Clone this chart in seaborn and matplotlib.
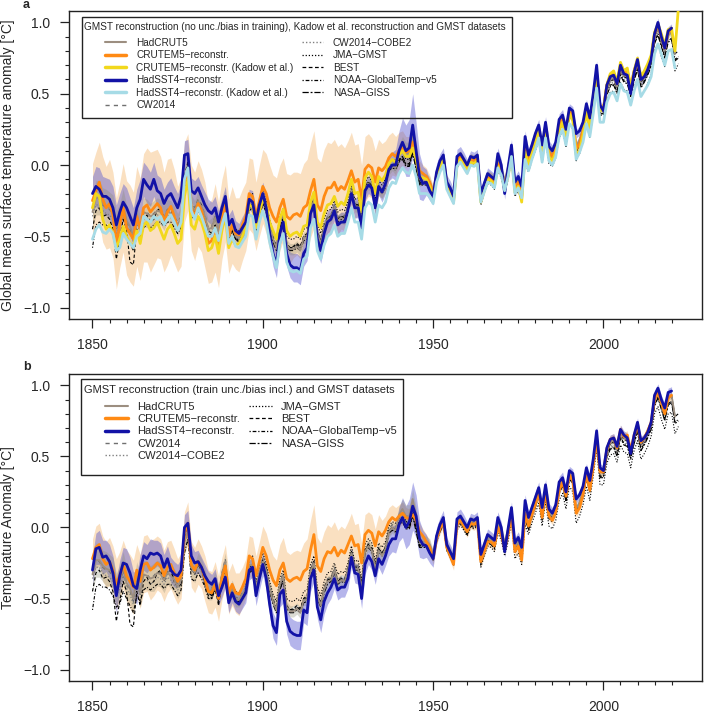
import numpy as np
import seaborn as sns
import matplotlib.pyplot as plt
from matplotlib.lines import Line2D
from matplotlib.patches import Rectangle
from matplotlib.ticker import FixedLocator

# annual GMST anomalies [°C], one row per decade, each list starts at its *_start year

hadcrut5_start = 1850
hadcrut5 = [
    -0.33, -0.23, -0.23, -0.27, -0.29, -0.30, -0.32, -0.44, -0.38, -0.28,
    -0.39, -0.43, -0.50, -0.34, -0.46, -0.33, -0.34, -0.36, -0.35, -0.32,
    -0.33, -0.37, -0.32, -0.34, -0.37, -0.42, -0.37, -0.10, -0.02, -0.28,
    -0.32, -0.25, -0.29, -0.36, -0.45, -0.44, -0.37, -0.47, -0.33, -0.24,
    -0.49, -0.43, -0.50, -0.51, -0.47, -0.43, -0.27, -0.26, -0.43, -0.31,
    -0.24, -0.30, -0.43, -0.52, -0.58, -0.40, -0.34, -0.56, -0.59, -0.59,
    -0.57, -0.60, -0.51, -0.51, -0.31, -0.25, -0.48, -0.55, -0.44, -0.38,
    -0.37, -0.30, -0.39, -0.37, -0.38, -0.30, -0.18, -0.29, -0.29, -0.44,
    -0.17, -0.13, -0.16, -0.30, -0.16, -0.20, -0.15, -0.03, 0.00, -0.02,
    0.09, 0.13, 0.08, 0.08, 0.20, 0.08, -0.10, -0.10, -0.10, -0.12,
    -0.19, -0.06, 0.01, 0.06, -0.12, -0.17, -0.22, 0.04, 0.07, 0.03,
    -0.01, 0.05, 0.04, 0.06, -0.22, -0.14, -0.07, -0.08, -0.11, 0.03,
    -0.02, -0.11, -0.01, 0.12, -0.14, -0.10, -0.17, 0.10, 0.02, 0.11,
    0.18, 0.26, 0.09, 0.27, 0.10, 0.08, 0.14, 0.28, 0.33, 0.22,
    0.38, 0.35, 0.13, 0.18, 0.26, 0.38, 0.29, 0.45, 0.63, 0.39,
    0.39, 0.54, 0.60, 0.61, 0.55, 0.68, 0.63, 0.62, 0.53, 0.64,
    0.72, 0.59, 0.63, 0.68, 0.74, 0.91, 0.96, 0.88, 0.80, 0.91,
    0.93, 0.78,
]
hadcrut5_unc = [
    0.12, 0.12, 0.12, 0.11, 0.12, 0.11, 0.11, 0.12, 0.11, 0.11,
    0.11, 0.10, 0.11, 0.10, 0.10, 0.10, 0.10, 0.09, 0.10, 0.09,
    0.09, 0.09, 0.08, 0.09, 0.08, 0.08, 0.08, 0.08, 0.08, 0.07,
    0.07, 0.07, 0.07, 0.07, 0.06, 0.07, 0.06, 0.06, 0.06, 0.06,
    0.06, 0.06, 0.06, 0.05, 0.05, 0.05, 0.05, 0.05, 0.05, 0.05,
    0.05, 0.05, 0.05, 0.05, 0.05, 0.04, 0.04, 0.04, 0.04, 0.04,
    0.04, 0.04, 0.04, 0.04, 0.04, 0.04, 0.04, 0.05, 0.05, 0.04,
    0.04, 0.04, 0.04, 0.04, 0.04, 0.04, 0.04, 0.04, 0.04, 0.04,
    0.04, 0.04, 0.04, 0.04, 0.04, 0.04, 0.04, 0.04, 0.04, 0.05,
    0.06, 0.07, 0.08, 0.08, 0.07, 0.06, 0.05, 0.04, 0.04, 0.04,
    0.03, 0.03, 0.03, 0.03, 0.03, 0.03, 0.03, 0.03, 0.03, 0.03,
    0.03, 0.03, 0.03, 0.03, 0.03, 0.03, 0.03, 0.03, 0.03, 0.03,
    0.03, 0.03, 0.03, 0.03, 0.03, 0.03, 0.03, 0.03, 0.03, 0.03,
    0.03, 0.03, 0.03, 0.03, 0.03, 0.03, 0.03, 0.03, 0.03, 0.03,
    0.03, 0.03, 0.03, 0.03, 0.03, 0.03, 0.03, 0.03, 0.03, 0.03,
    0.02, 0.02, 0.02, 0.02, 0.02, 0.02, 0.02, 0.02, 0.02, 0.02,
    0.02, 0.02, 0.02, 0.02, 0.02, 0.02, 0.02, 0.02, 0.02, 0.02,
    0.02, 0.02,
]

# panel a reconstructions (no unc./bias in training)
crutem_a_start = 1850
crutem_a = [
    -0.25, -0.18, -0.12, -0.24, -0.30, -0.27, -0.35, -0.55, -0.42, -0.30,
    -0.44, -0.48, -0.52, -0.36, -0.45, -0.30, -0.28, -0.33, -0.30, -0.27,
    -0.30, -0.40, -0.33, -0.29, -0.36, -0.45, -0.40, -0.12, -0.05, -0.30,
    -0.36, -0.27, -0.32, -0.42, -0.55, -0.53, -0.44, -0.56, -0.38, -0.27,
    -0.50, -0.42, -0.48, -0.49, -0.42, -0.36, -0.20, -0.22, -0.36, -0.25,
    -0.15, -0.20, -0.30, -0.36, -0.40, -0.30, -0.24, -0.36, -0.38, -0.35,
    -0.34, -0.36, -0.30, -0.28, -0.18, -0.10, -0.28, -0.32, -0.22, -0.16,
    -0.16, -0.12, -0.18, -0.15, -0.17, -0.11, -0.04, -0.12, -0.10, -0.24,
    -0.03, 0.00, -0.02, -0.12, -0.02, -0.04, -0.01, 0.05, 0.08, 0.06,
    0.10, 0.12, 0.09, 0.10, 0.16, 0.08, -0.04, -0.06, -0.08, -0.12,
    -0.20, -0.07, 0.00, 0.05, -0.13, -0.19, -0.24, 0.02, 0.06, 0.02,
    -0.03, 0.04, 0.03, 0.05, -0.24, -0.16, -0.09, -0.09, -0.12, 0.01,
    -0.04, -0.16, -0.05, 0.10, -0.17, -0.12, -0.22, 0.12, 0.03, 0.10,
    0.17, 0.26, 0.08, 0.27, 0.09, 0.06, 0.12, 0.27, 0.33, 0.23,
    0.38, 0.34, 0.11, 0.15, 0.24, 0.39, 0.27, 0.44, 0.64, 0.40,
    0.40, 0.56, 0.63, 0.64, 0.57, 0.70, 0.65, 0.66, 0.55, 0.66,
    0.73, 0.61, 0.64, 0.69, 0.75, 0.92, 0.98, 0.90, 0.82, 0.93,
    0.95,
]
crutem_a_unc = [
    0.26, 0.27, 0.28, 0.30, 0.29, 0.31, 0.30, 0.32, 0.30, 0.31,
    0.33, 0.34, 0.33, 0.35, 0.36, 0.38, 0.40, 0.42, 0.40, 0.38,
    0.36, 0.35, 0.37, 0.34, 0.33, 0.30, 0.31, 0.28, 0.27, 0.30,
    0.31, 0.30, 0.29, 0.30, 0.28, 0.29, 0.31, 0.30, 0.28, 0.27,
    0.26, 0.27, 0.25, 0.26, 0.25, 0.24, 0.25, 0.26, 0.24, 0.25,
    0.26, 0.28, 0.30, 0.29, 0.31, 0.30, 0.29, 0.30, 0.31, 0.30,
    0.29, 0.30, 0.31, 0.32, 0.33, 0.34, 0.33, 0.34, 0.33, 0.32,
    0.31, 0.30, 0.31, 0.30, 0.29, 0.28, 0.27, 0.26, 0.25, 0.24,
    0.23, 0.22, 0.21, 0.22, 0.20, 0.19, 0.18, 0.16, 0.15, 0.14,
    0.13, 0.12, 0.11, 0.10, 0.09, 0.08, 0.07, 0.06, 0.06, 0.05,
    0.05, 0.05, 0.04, 0.04, 0.04, 0.04, 0.04, 0.04, 0.04, 0.04,
    0.04, 0.04, 0.04, 0.04, 0.04, 0.04, 0.04, 0.04, 0.04, 0.04,
    0.04, 0.04, 0.04, 0.04, 0.04, 0.04, 0.04, 0.04, 0.04, 0.04,
    0.03, 0.03, 0.03, 0.03, 0.03, 0.03, 0.03, 0.03, 0.03, 0.03,
    0.03, 0.03, 0.03, 0.03, 0.03, 0.03, 0.03, 0.03, 0.03, 0.03,
    0.03, 0.03, 0.03, 0.03, 0.03, 0.03, 0.03, 0.03, 0.03, 0.03,
    0.03, 0.03, 0.03, 0.03, 0.03, 0.03, 0.03, 0.03, 0.03, 0.03,
    0.03,
]
crutem_kadow_start = 1850
crutem_kadow = [
    -0.30, -0.20, -0.22, -0.38, -0.45, -0.42, -0.48, -0.58, -0.52, -0.43,
    -0.50, -0.55, -0.57, -0.46, -0.55, -0.42, -0.40, -0.46, -0.44, -0.40,
    -0.46, -0.52, -0.45, -0.42, -0.48, -0.55, -0.52, -0.22, -0.10, -0.42,
    -0.45, -0.36, -0.40, -0.48, -0.60, -0.58, -0.50, -0.62, -0.46, -0.36,
    -0.58, -0.52, -0.56, -0.55, -0.50, -0.44, -0.28, -0.29, -0.44, -0.33,
    -0.24, -0.28, -0.40, -0.46, -0.52, -0.38, -0.31, -0.46, -0.50, -0.48,
    -0.47, -0.50, -0.43, -0.42, -0.26, -0.19, -0.40, -0.44, -0.34, -0.28,
    -0.27, -0.22, -0.29, -0.26, -0.28, -0.20, -0.10, -0.20, -0.19, -0.33,
    -0.09, -0.05, -0.08, -0.20, -0.08, -0.11, -0.07, 0.01, 0.04, 0.02,
    0.07, 0.10, 0.06, 0.06, 0.12, 0.04, -0.08, -0.09, -0.10, -0.15,
    -0.22, -0.08, -0.01, 0.04, -0.15, -0.21, -0.26, 0.00, 0.04, 0.00,
    -0.04, 0.02, 0.01, 0.03, -0.26, -0.18, -0.10, -0.11, -0.15, -0.01,
    -0.06, -0.17, -0.08, 0.08, -0.19, -0.15, -0.26, 0.09, 0.00, 0.08,
    0.15, 0.24, 0.05, 0.24, 0.06, 0.03, 0.09, 0.24, 0.30, 0.19,
    0.36, 0.31, 0.07, 0.10, 0.21, 0.37, 0.25, 0.42, 0.62, 0.38,
    0.39, 0.56, 0.64, 0.66, 0.58, 0.72, 0.66, 0.68, 0.54, 0.66,
    0.75, 0.62, 0.66, 0.71, 0.77, 0.93, 0.99, 0.92, 0.84, 0.95,
    0.96, 0.80, 1.10,
]
hadsst_a_start = 1850
hadsst_a = [
    -0.20, -0.15, -0.17, -0.22, -0.22, -0.24, -0.30, -0.42, -0.33, -0.26,
    -0.30, -0.36, -0.42, -0.30, -0.24, -0.10, -0.14, -0.17, -0.10, -0.18,
    -0.20, -0.27, -0.22, -0.20, -0.25, -0.30, -0.22, 0.07, 0.08, -0.18,
    -0.20, -0.16, -0.22, -0.28, -0.32, -0.34, -0.30, -0.40, -0.30, -0.22,
    -0.42, -0.38, -0.46, -0.48, -0.44, -0.40, -0.24, -0.26, -0.40, -0.28,
    -0.20, -0.30, -0.48, -0.62, -0.70, -0.48, -0.40, -0.62, -0.70, -0.72,
    -0.72, -0.74, -0.62, -0.58, -0.34, -0.28, -0.52, -0.60, -0.48, -0.40,
    -0.38, -0.32, -0.42, -0.40, -0.40, -0.32, -0.20, -0.30, -0.30, -0.44,
    -0.18, -0.14, -0.16, -0.30, -0.15, -0.19, -0.13, -0.03, 0.00, 0.00,
    0.10, 0.16, 0.10, 0.12, 0.28, 0.10, -0.08, -0.13, -0.12, -0.18,
    -0.22, -0.05, 0.03, 0.07, -0.12, -0.16, -0.22, 0.06, 0.08, 0.04,
    0.00, 0.06, 0.05, 0.07, -0.20, -0.13, -0.06, -0.08, -0.10, 0.08,
    0.00, -0.20, -0.02, 0.14, -0.12, -0.08, -0.15, 0.20, 0.07, 0.14,
    0.22, 0.28, 0.14, 0.30, 0.13, 0.10, 0.16, 0.32, 0.35, 0.25,
    0.40, 0.38, 0.22, 0.24, 0.30, 0.43, 0.33, 0.50, 0.70, 0.42,
    0.38, 0.56, 0.62, 0.63, 0.57, 0.70, 0.64, 0.63, 0.50, 0.65,
    0.74, 0.60, 0.62, 0.67, 0.74, 0.92, 1.00, 0.90, 0.82, 0.94,
    0.96,
]
hadsst_a_unc = [
    0.12, 0.14, 0.15, 0.14, 0.13, 0.14, 0.15, 0.14, 0.13, 0.13,
    0.14, 0.13, 0.12, 0.13, 0.14, 0.12, 0.13, 0.12, 0.12, 0.11,
    0.11, 0.10, 0.10, 0.11, 0.10, 0.10, 0.09, 0.10, 0.10, 0.09,
    0.09, 0.08, 0.08, 0.09, 0.08, 0.08, 0.08, 0.08, 0.07, 0.07,
    0.07, 0.07, 0.07, 0.07, 0.08, 0.08, 0.07, 0.08, 0.08, 0.08,
    0.08, 0.08, 0.09, 0.09, 0.09, 0.09, 0.08, 0.09, 0.09, 0.10,
    0.10, 0.10, 0.09, 0.09, 0.09, 0.08, 0.08, 0.09, 0.09, 0.08,
    0.08, 0.07, 0.07, 0.07, 0.07, 0.07, 0.07, 0.07, 0.07, 0.07,
    0.07, 0.06, 0.06, 0.06, 0.06, 0.07, 0.07, 0.08, 0.09, 0.11,
    0.14, 0.17, 0.18, 0.20, 0.22, 0.20, 0.16, 0.12, 0.09, 0.07,
    0.06, 0.06, 0.05, 0.05, 0.05, 0.05, 0.05, 0.05, 0.05, 0.05,
    0.04, 0.04, 0.04, 0.04, 0.04, 0.04, 0.04, 0.04, 0.04, 0.04,
    0.04, 0.04, 0.04, 0.04, 0.04, 0.04, 0.04, 0.04, 0.04, 0.04,
    0.04, 0.04, 0.04, 0.04, 0.04, 0.04, 0.04, 0.04, 0.04, 0.04,
    0.03, 0.03, 0.03, 0.03, 0.03, 0.03, 0.03, 0.03, 0.03, 0.03,
    0.03, 0.03, 0.03, 0.03, 0.03, 0.03, 0.03, 0.03, 0.03, 0.03,
    0.03, 0.03, 0.03, 0.03, 0.03, 0.03, 0.03, 0.03, 0.03, 0.03,
    0.03,
]
hadsst_kadow_start = 1850
hadsst_kadow = [
    -0.52, -0.45, -0.42, -0.47, -0.48, -0.45, -0.48, -0.60, -0.58, -0.48,
    -0.52, -0.55, -0.58, -0.50, -0.48, -0.36, -0.38, -0.40, -0.36, -0.38,
    -0.36, -0.42, -0.38, -0.35, -0.40, -0.46, -0.40, -0.10, -0.02, -0.32,
    -0.38, -0.30, -0.36, -0.43, -0.50, -0.50, -0.44, -0.53, -0.42, -0.34,
    -0.55, -0.50, -0.57, -0.58, -0.54, -0.50, -0.35, -0.36, -0.52, -0.40,
    -0.32, -0.40, -0.54, -0.64, -0.72, -0.55, -0.48, -0.68, -0.74, -0.75,
    -0.74, -0.76, -0.66, -0.64, -0.44, -0.38, -0.60, -0.66, -0.56, -0.50,
    -0.48, -0.42, -0.50, -0.48, -0.48, -0.40, -0.30, -0.40, -0.40, -0.52,
    -0.30, -0.26, -0.28, -0.40, -0.28, -0.30, -0.26, -0.16, -0.12, -0.13,
    -0.06, -0.02, -0.05, -0.06, 0.00, -0.08, -0.20, -0.20, -0.20, -0.22,
    -0.27, -0.12, -0.05, 0.00, -0.17, -0.22, -0.27, -0.01, 0.02, -0.02,
    -0.06, 0.00, -0.01, 0.01, -0.26, -0.19, -0.12, -0.13, -0.16, -0.02,
    -0.07, -0.18, -0.08, 0.06, -0.20, -0.16, -0.23, 0.04, -0.04, 0.04,
    0.11, 0.19, 0.02, 0.19, 0.03, 0.00, 0.06, 0.20, 0.25, 0.14,
    0.29, 0.26, 0.04, 0.09, 0.16, 0.29, 0.20, 0.36, 0.54, 0.30,
    0.30, 0.44, 0.50, 0.51, 0.45, 0.57, 0.52, 0.51, 0.42, 0.52,
    0.60, 0.48, 0.52, 0.56, 0.62, 0.78, 0.85, 0.78, 0.70, 0.80,
    0.81, 0.68,
]

# panel b reconstructions (train unc./bias incl.)
crutem_b_start = 1850
crutem_b = [
    -0.22, -0.14, -0.12, -0.22, -0.26, -0.24, -0.30, -0.40, -0.34, -0.26,
    -0.34, -0.38, -0.42, -0.30, -0.38, -0.26, -0.25, -0.30, -0.28, -0.25,
    -0.27, -0.34, -0.28, -0.26, -0.32, -0.38, -0.34, -0.04, 0.03, -0.26,
    -0.30, -0.24, -0.28, -0.36, -0.45, -0.46, -0.40, -0.50, -0.36, -0.27,
    -0.46, -0.40, -0.46, -0.47, -0.42, -0.36, -0.20, -0.22, -0.34, -0.24,
    -0.14, -0.20, -0.30, -0.37, -0.41, -0.30, -0.25, -0.36, -0.38, -0.36,
    -0.35, -0.37, -0.31, -0.29, -0.16, -0.05, -0.27, -0.31, -0.22, -0.17,
    -0.18, -0.14, -0.20, -0.16, -0.18, -0.12, -0.06, -0.13, -0.12, -0.25,
    -0.05, -0.02, -0.04, -0.13, -0.03, -0.06, -0.02, 0.04, 0.07, 0.05,
    0.08, 0.10, 0.07, 0.06, 0.09, 0.05, -0.03, -0.06, -0.10, -0.14,
    -0.22, -0.08, -0.01, 0.04, -0.14, -0.20, -0.26, 0.02, 0.05, 0.01,
    -0.03, 0.03, 0.02, 0.04, -0.24, -0.17, -0.10, -0.10, -0.13, 0.00,
    -0.05, -0.15, -0.05, 0.09, -0.17, -0.13, -0.23, 0.10, 0.01, 0.09,
    0.16, 0.25, 0.07, 0.26, 0.08, 0.05, 0.11, 0.26, 0.32, 0.22,
    0.37, 0.33, 0.10, 0.14, 0.23, 0.38, 0.26, 0.43, 0.62, 0.39,
    0.39, 0.55, 0.62, 0.63, 0.56, 0.69, 0.64, 0.65, 0.54, 0.65,
    0.72, 0.60, 0.63, 0.68, 0.74, 0.90, 0.95, 0.88, 0.80, 0.91,
    0.93,
]
crutem_b_unc = [
    0.14, 0.15, 0.15, 0.16, 0.16, 0.17, 0.17, 0.18, 0.17, 0.17,
    0.18, 0.19, 0.19, 0.18, 0.19, 0.20, 0.20, 0.21, 0.20, 0.19,
    0.19, 0.18, 0.18, 0.17, 0.17, 0.16, 0.16, 0.15, 0.15, 0.16,
    0.16, 0.16, 0.15, 0.16, 0.15, 0.15, 0.16, 0.16, 0.15, 0.15,
    0.15, 0.15, 0.14, 0.15, 0.14, 0.14, 0.14, 0.15, 0.14, 0.14,
    0.15, 0.16, 0.17, 0.17, 0.18, 0.18, 0.18, 0.19, 0.19, 0.19,
    0.19, 0.20, 0.20, 0.21, 0.21, 0.21, 0.20, 0.20, 0.19, 0.19,
    0.18, 0.18, 0.18, 0.17, 0.17, 0.16, 0.16, 0.15, 0.15, 0.14,
    0.14, 0.13, 0.13, 0.12, 0.12, 0.11, 0.10, 0.10, 0.09, 0.09,
    0.08, 0.08, 0.07, 0.07, 0.07, 0.06, 0.06, 0.05, 0.05, 0.05,
    0.04, 0.04, 0.04, 0.04, 0.04, 0.04, 0.04, 0.04, 0.04, 0.04,
    0.04, 0.04, 0.04, 0.04, 0.04, 0.04, 0.04, 0.04, 0.04, 0.04,
    0.04, 0.04, 0.04, 0.04, 0.04, 0.04, 0.04, 0.04, 0.04, 0.04,
    0.03, 0.03, 0.03, 0.03, 0.03, 0.03, 0.03, 0.03, 0.03, 0.03,
    0.03, 0.03, 0.03, 0.03, 0.03, 0.03, 0.03, 0.03, 0.03, 0.03,
    0.03, 0.03, 0.03, 0.03, 0.03, 0.03, 0.03, 0.03, 0.03, 0.03,
    0.03, 0.03, 0.03, 0.03, 0.03, 0.03, 0.03, 0.03, 0.03, 0.03,
    0.03,
]
hadsst_b_start = 1850
hadsst_b = [
    -0.30, -0.15, -0.14, -0.21, -0.20, -0.24, -0.32, -0.48, -0.34, -0.25,
    -0.26, -0.32, -0.41, -0.43, -0.30, -0.20, -0.22, -0.18, -0.19, -0.18,
    -0.20, -0.28, -0.22, -0.30, -0.33, -0.34, -0.30, 0.00, 0.03, -0.20,
    -0.25, -0.24, -0.28, -0.34, -0.38, -0.40, -0.36, -0.48, -0.42, -0.35,
    -0.53, -0.46, -0.52, -0.54, -0.50, -0.46, -0.30, -0.28, -0.48, -0.36,
    -0.26, -0.36, -0.54, -0.69, -0.74, -0.47, -0.44, -0.66, -0.73, -0.75,
    -0.76, -0.76, -0.58, -0.60, -0.36, -0.30, -0.56, -0.65, -0.52, -0.46,
    -0.42, -0.36, -0.44, -0.42, -0.42, -0.36, -0.21, -0.32, -0.33, -0.50,
    -0.26, -0.20, -0.24, -0.34, -0.22, -0.26, -0.20, -0.12, -0.08, -0.08,
    0.02, 0.07, 0.00, 0.04, 0.15, 0.08, -0.08, -0.12, -0.13, -0.18,
    -0.22, -0.06, 0.02, 0.07, -0.12, -0.17, -0.22, 0.06, 0.08, 0.04,
    0.00, 0.06, 0.05, 0.07, -0.19, -0.12, -0.05, -0.07, -0.09, 0.07,
    0.00, -0.17, -0.01, 0.14, -0.11, -0.07, -0.14, 0.19, 0.07, 0.14,
    0.21, 0.28, 0.14, 0.30, 0.13, 0.10, 0.16, 0.32, 0.35, 0.25,
    0.40, 0.38, 0.20, 0.23, 0.29, 0.42, 0.33, 0.48, 0.68, 0.42,
    0.40, 0.56, 0.62, 0.63, 0.57, 0.69, 0.65, 0.63, 0.52, 0.65,
    0.74, 0.61, 0.63, 0.67, 0.74, 0.93, 0.98, 0.90, 0.84, 0.95,
    0.96,
]
hadsst_b_unc = [
    0.10, 0.11, 0.12, 0.12, 0.11, 0.12, 0.12, 0.12, 0.11, 0.11,
    0.11, 0.11, 0.10, 0.11, 0.11, 0.10, 0.10, 0.10, 0.10, 0.09,
    0.09, 0.09, 0.09, 0.09, 0.09, 0.08, 0.08, 0.09, 0.09, 0.08,
    0.08, 0.08, 0.07, 0.08, 0.07, 0.07, 0.07, 0.07, 0.07, 0.07,
    0.07, 0.07, 0.07, 0.07, 0.07, 0.07, 0.07, 0.07, 0.07, 0.08,
    0.08, 0.08, 0.08, 0.09, 0.09, 0.09, 0.09, 0.09, 0.10, 0.10,
    0.10, 0.10, 0.09, 0.09, 0.09, 0.08, 0.08, 0.09, 0.09, 0.08,
    0.08, 0.07, 0.07, 0.07, 0.07, 0.07, 0.07, 0.07, 0.07, 0.07,
    0.07, 0.06, 0.06, 0.06, 0.06, 0.07, 0.07, 0.08, 0.09, 0.10,
    0.12, 0.14, 0.15, 0.16, 0.17, 0.15, 0.13, 0.10, 0.08, 0.07,
    0.06, 0.06, 0.05, 0.05, 0.05, 0.05, 0.05, 0.05, 0.05, 0.05,
    0.04, 0.04, 0.04, 0.04, 0.04, 0.04, 0.04, 0.04, 0.04, 0.04,
    0.04, 0.04, 0.04, 0.04, 0.04, 0.04, 0.04, 0.04, 0.04, 0.04,
    0.04, 0.04, 0.04, 0.04, 0.04, 0.04, 0.04, 0.04, 0.04, 0.04,
    0.03, 0.03, 0.03, 0.03, 0.03, 0.03, 0.03, 0.03, 0.03, 0.03,
    0.03, 0.03, 0.03, 0.03, 0.03, 0.03, 0.03, 0.03, 0.03, 0.03,
    0.03, 0.03, 0.03, 0.03, 0.03, 0.03, 0.03, 0.03, 0.03, 0.03,
    0.03,
]

# GMST datasets (both panels)
cw2014_start = 1850
cw2014 = [
    -0.30, -0.22, -0.24, -0.28, -0.30, -0.31, -0.35, -0.45, -0.40, -0.30,
    -0.40, -0.45, -0.52, -0.36, -0.45, -0.34, -0.33, -0.36, -0.34, -0.31,
    -0.32, -0.36, -0.31, -0.32, -0.36, -0.40, -0.36, -0.09, 0.00, -0.26,
    -0.30, -0.24, -0.28, -0.35, -0.44, -0.43, -0.36, -0.46, -0.32, -0.22,
    -0.47, -0.42, -0.49, -0.50, -0.46, -0.42, -0.26, -0.24, -0.42, -0.30,
    -0.22, -0.28, -0.42, -0.50, -0.56, -0.39, -0.32, -0.55, -0.58, -0.58,
    -0.56, -0.58, -0.50, -0.49, -0.29, -0.23, -0.46, -0.54, -0.42, -0.36,
    -0.35, -0.28, -0.37, -0.35, -0.36, -0.28, -0.16, -0.27, -0.27, -0.42,
    -0.15, -0.11, -0.14, -0.28, -0.14, -0.18, -0.13, -0.01, 0.02, 0.00,
    0.06, 0.10, 0.04, 0.04, 0.15, 0.04, -0.12, -0.12, -0.12, -0.14,
    -0.20, -0.07, 0.00, 0.05, -0.13, -0.18, -0.23, 0.03, 0.06, 0.02,
    -0.02, 0.04, 0.03, 0.05, -0.23, -0.15, -0.08, -0.09, -0.12, 0.02,
    -0.03, -0.12, -0.02, 0.11, -0.15, -0.11, -0.18, 0.09, 0.01, 0.10,
    0.17, 0.25, 0.08, 0.26, 0.09, 0.07, 0.13, 0.27, 0.32, 0.21,
    0.37, 0.34, 0.12, 0.17, 0.25, 0.37, 0.28, 0.44, 0.62, 0.38,
    0.38, 0.53, 0.59, 0.60, 0.54, 0.67, 0.62, 0.61, 0.52, 0.63,
    0.71, 0.58, 0.62, 0.67, 0.73, 0.90, 0.95, 0.87, 0.79, 0.90,
]
cw2014_cobe2_start = 1850
cw2014_cobe2 = [
    -0.36, -0.28, -0.28, -0.32, -0.34, -0.35, -0.38, -0.48, -0.43, -0.34,
    -0.43, -0.47, -0.54, -0.40, -0.48, -0.37, -0.37, -0.40, -0.38, -0.35,
    -0.36, -0.40, -0.35, -0.37, -0.40, -0.44, -0.40, -0.12, -0.04, -0.30,
    -0.33, -0.27, -0.31, -0.38, -0.46, -0.45, -0.39, -0.48, -0.35, -0.26,
    -0.48, -0.43, -0.50, -0.51, -0.47, -0.43, -0.28, -0.27, -0.43, -0.32,
    -0.25, -0.31, -0.44, -0.52, -0.57, -0.41, -0.35, -0.56, -0.58, -0.58,
    -0.56, -0.58, -0.50, -0.50, -0.31, -0.26, -0.48, -0.54, -0.43, -0.37,
    -0.36, -0.30, -0.38, -0.36, -0.37, -0.30, -0.18, -0.29, -0.28, -0.42,
    -0.17, -0.13, -0.16, -0.29, -0.16, -0.19, -0.15, -0.04, -0.02, -0.04,
    0.02, 0.05, 0.00, -0.01, 0.08, -0.02, -0.14, -0.12, -0.12, -0.14,
    -0.21, -0.08, -0.01, 0.04, -0.14, -0.19, -0.24, 0.02, 0.05, 0.01,
    -0.03, 0.03, 0.02, 0.04, -0.24, -0.16, -0.09, -0.10, -0.13, 0.01,
    -0.04, -0.13, -0.03, 0.10, -0.16, -0.12, -0.19, 0.08, 0.00, 0.09,
    0.16, 0.24, 0.07, 0.25, 0.08, 0.06, 0.12, 0.26, 0.31, 0.20,
    0.35, 0.32, 0.10, 0.15, 0.23, 0.35, 0.26, 0.42, 0.60, 0.36,
    0.36, 0.51, 0.57, 0.58, 0.52, 0.65, 0.60, 0.59, 0.50, 0.61,
    0.69, 0.56, 0.60, 0.65, 0.71, 0.88, 0.93, 0.85, 0.77, 0.88,
]
jma_start = 1891
jma = [
    -0.40, -0.45, -0.46, -0.42, -0.40, -0.22, -0.20, -0.38, -0.26,
    -0.18, -0.25, -0.38, -0.47, -0.52, -0.36, -0.30, -0.50, -0.52, -0.52,
    -0.50, -0.52, -0.45, -0.44, -0.26, -0.20, -0.42, -0.48, -0.38, -0.32,
    -0.31, -0.25, -0.33, -0.31, -0.32, -0.25, -0.13, -0.24, -0.23, -0.37,
    -0.12, -0.08, -0.11, -0.24, -0.11, -0.14, -0.10, 0.01, 0.04, 0.03,
    0.08, 0.10, 0.04, 0.04, 0.14, 0.03, -0.14, -0.13, -0.12, -0.14,
    -0.21, -0.09, -0.03, 0.02, -0.16, -0.21, -0.27, -0.02, 0.02, -0.02,
    -0.06, 0.00, -0.01, 0.01, -0.28, -0.20, -0.13, -0.14, -0.17, -0.04,
    -0.09, -0.20, -0.10, 0.04, -0.22, -0.18, -0.26, 0.02, -0.05, 0.03,
    0.10, 0.17, 0.01, 0.18, 0.01, -0.01, 0.05, 0.19, 0.24, 0.13,
    0.29, 0.25, 0.03, 0.08, 0.16, 0.29, 0.19, 0.36, 0.55, 0.30,
    0.30, 0.45, 0.51, 0.52, 0.46, 0.58, 0.53, 0.52, 0.42, 0.54,
    0.61, 0.48, 0.52, 0.57, 0.64, 0.80, 0.85, 0.76, 0.69, 0.80,
    0.81, 0.66, 0.71,
]
best_start = 1850
best = [
    -0.45, -0.32, -0.30, -0.36, -0.35, -0.38, -0.45, -0.66, -0.52, -0.38,
    -0.45, -0.68, -0.70, -0.45, -0.55, -0.38, -0.35, -0.40, -0.38, -0.32,
    -0.30, -0.38, -0.32, -0.30, -0.38, -0.42, -0.40, -0.08, 0.02, -0.30,
    -0.32, -0.25, -0.28, -0.40, -0.48, -0.50, -0.42, -0.55, -0.38, -0.25,
    -0.48, -0.44, -0.52, -0.52, -0.50, -0.43, -0.27, -0.28, -0.44, -0.32,
    -0.23, -0.28, -0.42, -0.51, -0.57, -0.41, -0.34, -0.55, -0.58, -0.57,
    -0.55, -0.57, -0.50, -0.48, -0.30, -0.24, -0.47, -0.53, -0.43, -0.37,
    -0.36, -0.30, -0.38, -0.36, -0.37, -0.29, -0.17, -0.28, -0.28, -0.42,
    -0.16, -0.12, -0.15, -0.28, -0.15, -0.18, -0.14, -0.02, 0.00, -0.02,
    0.03, 0.06, 0.00, 0.00, 0.10, 0.00, -0.13, -0.12, -0.12, -0.14,
    -0.21, -0.08, -0.01, 0.04, -0.14, -0.19, -0.24, 0.02, 0.06, 0.01,
    -0.03, 0.03, 0.02, 0.04, -0.24, -0.16, -0.09, -0.10, -0.13, 0.01,
    -0.04, -0.14, -0.03, 0.10, -0.16, -0.12, -0.19, 0.08, 0.00, 0.10,
    0.17, 0.25, 0.08, 0.26, 0.09, 0.07, 0.13, 0.27, 0.32, 0.21,
    0.37, 0.34, 0.12, 0.17, 0.25, 0.37, 0.28, 0.45, 0.62, 0.39,
    0.39, 0.53, 0.59, 0.60, 0.54, 0.67, 0.62, 0.61, 0.52, 0.63,
    0.72, 0.58, 0.62, 0.67, 0.74, 0.90, 0.96, 0.88, 0.80, 0.91,
    0.93, 0.78, 0.80,
]
noaa_start = 1850
noaa = [
    -0.58, -0.42, -0.40, -0.42, -0.42, -0.44, -0.48, -0.56, -0.54, -0.45,
    -0.50, -0.55, -0.60, -0.48, -0.52, -0.44, -0.42, -0.44, -0.42, -0.40,
    -0.40, -0.43, -0.40, -0.40, -0.44, -0.48, -0.44, -0.18, -0.08, -0.36,
    -0.38, -0.32, -0.36, -0.42, -0.50, -0.50, -0.44, -0.52, -0.40, -0.30,
    -0.50, -0.46, -0.52, -0.53, -0.50, -0.46, -0.32, -0.30, -0.45, -0.35,
    -0.28, -0.33, -0.45, -0.53, -0.58, -0.43, -0.38, -0.56, -0.58, -0.58,
    -0.56, -0.58, -0.51, -0.50, -0.32, -0.27, -0.48, -0.54, -0.44, -0.38,
    -0.36, -0.30, -0.38, -0.36, -0.37, -0.30, -0.18, -0.28, -0.28, -0.40,
    -0.16, -0.12, -0.15, -0.28, -0.15, -0.18, -0.14, -0.02, 0.00, -0.01,
    0.04, 0.06, 0.01, 0.01, 0.10, 0.00, -0.12, -0.12, -0.12, -0.14,
    -0.21, -0.08, -0.02, 0.03, -0.15, -0.20, -0.25, 0.01, 0.05, 0.00,
    -0.04, 0.02, 0.01, 0.03, -0.25, -0.17, -0.10, -0.11, -0.14, 0.00,
    -0.05, -0.15, -0.04, 0.09, -0.17, -0.13, -0.20, 0.07, -0.01, 0.08,
    0.15, 0.23, 0.06, 0.24, 0.07, 0.05, 0.11, 0.25, 0.30, 0.19,
    0.35, 0.32, 0.10, 0.15, 0.23, 0.35, 0.26, 0.43, 0.60, 0.36,
    0.36, 0.50, 0.56, 0.57, 0.51, 0.64, 0.59, 0.58, 0.49, 0.60,
    0.68, 0.55, 0.59, 0.64, 0.70, 0.86, 0.92, 0.84, 0.76, 0.87,
    0.89, 0.74, 0.76,
]
giss_start = 1880
giss = [
    -0.33, -0.26, -0.30, -0.38, -0.46, -0.48, -0.42, -0.50, -0.36, -0.26,
    -0.52, -0.46, -0.52, -0.54, -0.50, -0.45, -0.30, -0.30, -0.46, -0.34,
    -0.26, -0.32, -0.44, -0.54, -0.60, -0.44, -0.37, -0.57, -0.60, -0.60,
    -0.58, -0.60, -0.53, -0.52, -0.34, -0.29, -0.50, -0.56, -0.46, -0.40,
    -0.38, -0.32, -0.40, -0.38, -0.39, -0.32, -0.20, -0.30, -0.30, -0.43,
    -0.18, -0.14, -0.17, -0.30, -0.17, -0.20, -0.16, -0.04, -0.02, -0.03,
    0.02, 0.04, -0.01, -0.01, 0.08, -0.03, -0.14, -0.14, -0.14, -0.16,
    -0.23, -0.10, -0.03, 0.02, -0.16, -0.21, -0.26, 0.00, 0.04, -0.01,
    -0.05, 0.01, 0.00, 0.02, -0.26, -0.18, -0.11, -0.12, -0.15, -0.01,
    -0.06, -0.16, -0.05, 0.08, -0.18, -0.14, -0.21, 0.06, -0.02, 0.07,
    0.14, 0.22, 0.05, 0.23, 0.06, 0.04, 0.10, 0.24, 0.29, 0.18,
    0.34, 0.31, 0.09, 0.14, 0.22, 0.34, 0.25, 0.42, 0.59, 0.35,
    0.35, 0.49, 0.55, 0.56, 0.50, 0.63, 0.58, 0.57, 0.48, 0.59,
    0.67, 0.54, 0.58, 0.63, 0.69, 0.85, 0.91, 0.83, 0.75, 0.86,
    0.88, 0.73, 0.75,
]

M = '\u2212'
C_HC = '#9c8e80'
C_OR = '#ff8a14'
C_YE = '#f2d81c'
C_BL = '#1212a6'
C_LB = '#a6dbe6'

sns.set_style('ticks')
plt.rcParams['font.family'] = ['Liberation Sans', 'DejaVu Sans']

datasets = [
    ('CW2014', cw2014, cw2014_start, '#707070', (0, (3, 3)), 0.9),
    ('CW2014' + M + 'COBE2', cw2014_cobe2, cw2014_cobe2_start, '#808080', (0, (1, 1.5)), 0.9),
    ('JMA' + M + 'GMST', jma, jma_start, 'black', (0, (1, 1.5)), 0.8),
    ('BEST', best, best_start, 'black', (0, (3, 2)), 0.8),
    ('NOAA' + M + 'GlobalTemp' + M + 'v5', noaa, noaa_start, 'black', (0, (1, 1.5, 3, 1.5)), 0.8),
    ('NASA' + M + 'GISS', giss, giss_start, 'black', (0, (5, 1.5, 1.5, 1.5)), 0.8),
]


def yrs(start, vals):
    return np.arange(start, start + len(vals))


def band(ax, start, mid, half, color, alpha):
    m = np.array(mid)
    h = np.array(half)
    ax.fill_between(yrs(start, mid), m - h, m + h, color=color, alpha=alpha, lw=0, zorder=1)


def line(ax, start, vals, **kw):
    sns.lineplot(x=yrs(start, vals), y=vals, ax=ax, estimator=None, legend=False, **kw)


def style_axes(ax, ylabel):
    ax.set_xlim(1843.1, 2028.9)
    ax.set_ylim(-1.08, 1.08)
    ax.set_xticks([1850, 1900, 1950, 2000])
    ax.xaxis.set_minor_locator(FixedLocator(np.arange(1850, 2021, 5)))
    ax.set_yticks([-1.0, -0.5, 0.0, 0.5, 1.0])
    ax.yaxis.set_minor_locator(FixedLocator(np.arange(-10, 11) / 10))
    ax.tick_params(which='major', length=6.5, width=0.9, labelsize=10, color='#222222')
    ax.tick_params(which='minor', length=3, width=0.8, color='#222222')
    ax.tick_params(axis='x', which='major', pad=7)
    ax.tick_params(axis='y', which='major', pad=7)
    for s in ax.spines.values():
        s.set_linewidth(1.0)
        s.set_color('#222222')
    ax.set_xlabel('')
    ax.set_ylabel(ylabel, fontsize=10)
    ax.yaxis.set_label_coords(-0.085, 0.5)


def legend_box(ax, title, handles, box, title_y, anchor, fs, colsp, lsp, tpad):
    x0, y0, x1, y1 = box
    ax.add_patch(Rectangle((x0, y0), x1 - x0, y1 - y0, transform=ax.transAxes,
                           fill=False, ec='#222222', lw=1.0, zorder=6))
    ax.text(x0 + 0.004, title_y, title, transform=ax.transAxes, fontsize=fs,
            va='center', ha='left', zorder=7)
    leg = ax.legend(handles=handles, loc='upper left', bbox_to_anchor=anchor, ncol=2,
                    frameon=False, fontsize=fs, handlelength=2.1, handletextpad=tpad,
                    columnspacing=colsp, labelspacing=lsp, borderpad=0, borderaxespad=0)
    leg.set_zorder(7)


def ds_handles():
    return [Line2D([], [], color=c, ls=ls, lw=lw + 0.1, label=name)
            for name, _, _, c, ls, lw in datasets]


fig = plt.figure(figsize=(7.04, 7.15), dpi=100)
ax_a = fig.add_axes([0.098, 0.5538, 0.899, 0.4308])
ax_b = fig.add_axes([0.098, 0.0476, 0.899, 0.4294])

# ---- panel a
band(ax_a, crutem_a_start, crutem_a, crutem_a_unc, '#f0a040', 0.32)
band(ax_a, hadsst_a_start, hadsst_a, hadsst_a_unc, '#5050d0', 0.42)
band(ax_a, hadcrut5_start, hadcrut5, hadcrut5_unc, '#8a8a70', 0.3)
for name, vals, start, c, ls, lw in datasets:
    line(ax_a, start, vals, color=c, linestyle=ls, lw=lw, zorder=2)
line(ax_a, hadcrut5_start, hadcrut5, color=C_HC, lw=1.3, zorder=3)
line(ax_a, crutem_a_start, crutem_a, color=C_OR, lw=2.0, zorder=4)
line(ax_a, crutem_kadow_start, crutem_kadow, color=C_YE, lw=2.0, zorder=4)
line(ax_a, hadsst_a_start, hadsst_a, color=C_BL, lw=2.0, zorder=4)
line(ax_a, hadsst_kadow_start, hadsst_kadow, color=C_LB, lw=2.0, zorder=4)
style_axes(ax_a, 'Global mean surface temperature anomaly [\u00b0C]')

h_a = [
    Line2D([], [], color=C_HC, lw=1.5, label='HadCRUT5'),
    Line2D([], [], color=C_OR, lw=2.5, label='CRUTEM5' + M + 'reconstr.'),
    Line2D([], [], color=C_YE, lw=2.5, label='CRUTEM5' + M + 'reconstr. (Kadow et al.)'),
    Line2D([], [], color=C_BL, lw=2.5, label='HadSST4' + M + 'reconstr.'),
    Line2D([], [], color=C_LB, lw=2.5, label='HadSST4' + M + 'reconstr. (Kadow et al.)'),
] + ds_handles()
legend_box(ax_a, 'GMST reconstruction (no unc./bias in training), Kadow et al. reconstruction and GMST datasets',
           h_a, (0.0205, 0.653, 0.700, 0.9805), 0.948, (0.057, 0.913), 7.2, 0.85, 0.25, 1.0)

# ---- panel b
band(ax_b, crutem_b_start, crutem_b, crutem_b_unc, '#f0a040', 0.32)
band(ax_b, hadsst_b_start, hadsst_b, hadsst_b_unc, '#5050d0', 0.42)
band(ax_b, hadcrut5_start, hadcrut5, hadcrut5_unc, '#8a8a70', 0.3)
for name, vals, start, c, ls, lw in datasets:
    line(ax_b, start, vals, color=c, linestyle=ls, lw=lw, zorder=2)
line(ax_b, hadcrut5_start, hadcrut5, color=C_HC, lw=1.3, zorder=3)
line(ax_b, crutem_b_start, crutem_b, color=C_OR, lw=2.0, zorder=4)
line(ax_b, hadsst_b_start, hadsst_b, color=C_BL, lw=2.0, zorder=4)
style_axes(ax_b, 'Temperature Anomaly [\u00b0C]')

h_b = [
    Line2D([], [], color=C_HC, lw=1.5, label='HadCRUT5'),
    Line2D([], [], color=C_OR, lw=2.5, label='CRUTEM5' + M + 'reconstr.'),
    Line2D([], [], color=C_BL, lw=2.5, label='HadSST4' + M + 'reconstr.'),
] + ds_handles()
legend_box(ax_b, 'GMST reconstruction (train unc./bias incl.) and GMST datasets',
           h_b, (0.019, 0.671, 0.528, 0.984), 0.948, (0.057, 0.908), 8.0, 0.8, 0.19, 0.8)

fig.text(23 / 704, 1 - 5 / 715, 'a', fontsize=9, fontweight='bold', ha='left', va='center')
fig.text(23 / 704, 1 - 367 / 715, 'b', fontsize=9, fontweight='bold', ha='left', va='center')

fig.savefig('out.png', dpi=100)
